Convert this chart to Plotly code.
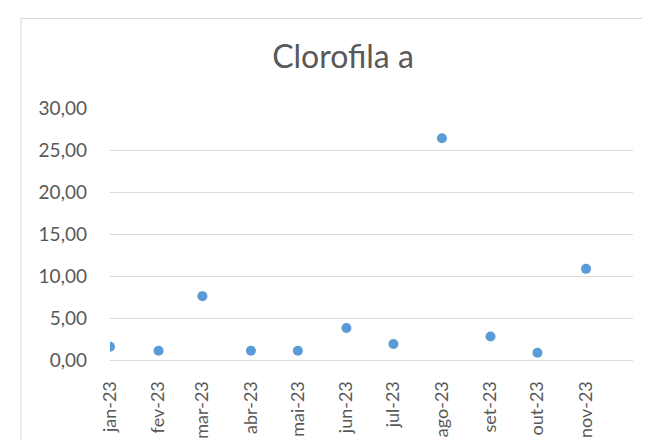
import plotly.graph_objects as go

dates = ["2023-01-01", "2023-02-01", "2023-03-01", "2023-04-01", "2023-05-01", "2023-06-01",
         "2023-07-01", "2023-08-01", "2023-09-01", "2023-10-01", "2023-11-01"]
month_labels = ["jan-23", "fev-23", "mar-23", "abr-23", "mai-23", "jun-23",
                "jul-23", "ago-23", "set-23", "out-23", "nov-23"]
clorofila = [1.58, 1.1, 7.6, 1.1, 1.1, 3.8, 1.9, 26.4, 2.8, 0.86, 10.85]
y_ticks = [0, 5, 10, 15, 20, 25, 30]
y_tick_text = ["0,00", "5,00", "10,00", "15,00", "20,00", "25,00", "30,00"]

FONT = "Lato, 'Noto Sans', sans-serif"
GRAY = "#595959"
GRID = "#d9d9d9"

# page has an 8px body margin; figure is sized so the page does not scroll
fig = go.Figure(go.Scatter(
    x=dates, y=clorofila, mode="markers",
    marker=dict(size=10, color="#5B9BD5"),
    showlegend=False,
))

bx0 = (21 - 110) / 523
by1 = (359.5 - 18) / 252
fig.update_layout(
    width=634, height=432,
    margin=dict(l=102, r=9, t=100, b=80),
    paper_bgcolor="white", plot_bgcolor="white",
    font=dict(family=FONT, color=GRAY),
    title=dict(text="Clorofila a", x=(343 - 110) / 523, xref="paper", xanchor="center",
               y=1 - 49 / 432, yanchor="middle",
               font=dict(family=FONT, size=32, color=GRAY)),
    shapes=[
        dict(type="line", xref="paper", yref="paper", x0=bx0, x1=1.1, y0=by1, y1=by1,
             line=dict(color=GRID, width=1), layer="below"),
        dict(type="line", xref="paper", yref="paper", x0=bx0, x1=bx0, y0=-0.5, y1=by1,
             line=dict(color=GRID, width=1), layer="below"),
    ],
)

fig.update_xaxes(
    type="date", range=["2023-01-01", "2023-12-01"],
    tickvals=dates, ticktext=month_labels, tickangle=-90,
    tickfont=dict(family=FONT, size=18, color=GRAY),
    showgrid=False, zeroline=False, automargin=False,
    showline=True, linecolor=GRID, linewidth=1,
    ticks="", ticklabelstandoff=13,
)
fig.update_yaxes(
    range=[0, 30], tickvals=y_ticks, ticktext=y_tick_text,
    tickfont=dict(family=FONT, size=19, color=GRAY),
    showgrid=True, gridcolor=GRID, gridwidth=1, automargin=False,
    zeroline=False, showline=False, ticks="", ticklabelstandoff=22,
)

fig.write_html("out.html")
